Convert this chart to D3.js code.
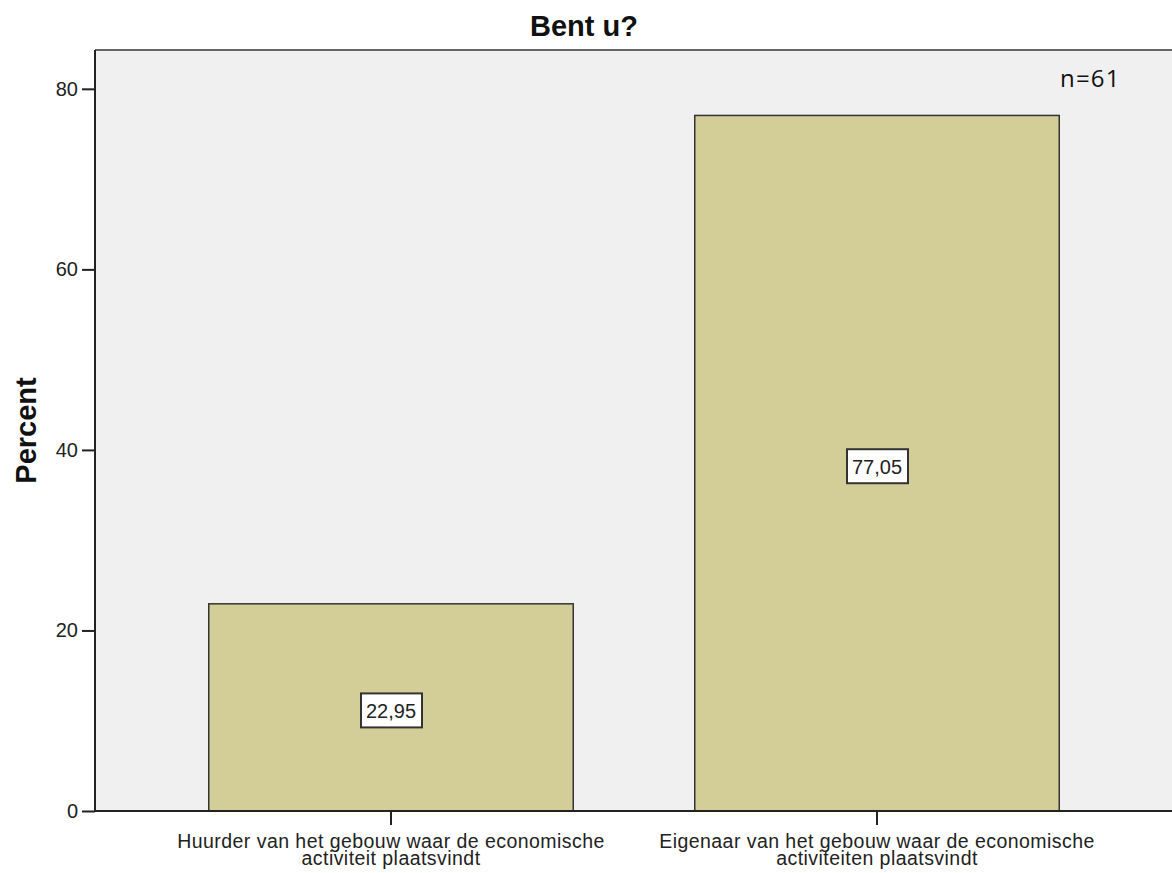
<!DOCTYPE html>
<html>
<head>
<meta charset="utf-8">
<script src="https://cdn.jsdelivr.net/npm/d3@7"></script>
<style>
  body { margin: 0; background: #fff; }
  svg { display: block; }
</style>
</head>
<body>
<svg id="chart" width="1172" height="873"></svg>
<script>
var categories = [
    ['Huurder van het gebouw waar de economische', 'activiteit plaatsvindt'],
    ['Eigenaar van het gebouw waar de economische', 'activiteiten plaatsvindt']
];
var percents = [22.95, 77.05];
var labels = ['22,95', '77,05'];
var yTicks = [0, 20, 40, 60, 80];

var svg = d3.select('#chart');
var font = 'Liberation Sans, Arial, sans-serif';

var plot = {left: 95, top: 50, right: 1190, bottom: 811};

var x = d3.scaleBand()
    .domain(d3.range(categories.length))
    .range([148, 1120])
    .paddingInner(0.25)
    .paddingOuter(0.125);

var y = d3.scaleLinear()
    .domain([0, 84.3])
    .range([plot.bottom, plot.top]);

// background
svg.append('rect')
    .attr('x', plot.left)
    .attr('y', plot.top)
    .attr('width', plot.right - plot.left)
    .attr('height', plot.bottom - plot.top)
    .attr('fill', '#f0f0f0');

svg.append('line')
    .attr('x1', plot.left).attr('x2', plot.right)
    .attr('y1', plot.top).attr('y2', plot.top)
    .attr('stroke', '#666').attr('stroke-width', 2);

// bars
svg.selectAll('rect.bar')
    .data(percents)
    .enter().append('rect')
    .attr('class', 'bar')
    .attr('x', function(d, i) { return x(i); })
    .attr('y', function(d) { return y(d); })
    .attr('width', x.bandwidth())
    .attr('height', function(d) { return y(0) - y(d); })
    .attr('fill', '#d3ce97')
    .attr('stroke', '#333')
    .attr('stroke-width', 1.5);

// y axis
var yAxis = svg.append('g')
    .attr('transform', 'translate(' + plot.left + ',0)')
    .call(d3.axisLeft(y).tickValues(yTicks).tickSize(13).tickPadding(4));
yAxis.select('.domain').remove();
yAxis.selectAll('.tick line').attr('stroke', '#222').attr('stroke-width', 2);
yAxis.selectAll('.tick text')
    .attr('font-family', font).attr('font-size', 20).attr('fill', '#222');

svg.append('line')
    .attr('x1', plot.left).attr('x2', plot.left)
    .attr('y1', plot.top).attr('y2', plot.bottom + 1)
    .attr('stroke', '#222').attr('stroke-width', 2);

svg.append('line')
    .attr('x1', plot.left - 1).attr('x2', plot.right)
    .attr('y1', plot.bottom).attr('y2', plot.bottom)
    .attr('stroke', '#222').attr('stroke-width', 2);

// x ticks and labels
var xt = svg.selectAll('g.xtick')
    .data(categories)
    .enter().append('g')
    .attr('class', 'xtick')
    .attr('transform', function(d, i) {
        return 'translate(' + (x(i) + x.bandwidth() / 2) + ',' + plot.bottom + ')';
    });

xt.append('line')
    .attr('y1', 0).attr('y2', 14)
    .attr('stroke', '#222').attr('stroke-width', 2);

xt.append('text')
    .attr('text-anchor', 'middle')
    .attr('font-family', font)
    .attr('font-size', 19.5)
    .attr('letter-spacing', 0.45)
    .attr('fill', '#222')
    .selectAll('tspan')
    .data(function(d) { return d; })
    .enter().append('tspan')
    .attr('x', 0)
    .attr('y', function(d, j) { return 37 + j * 17; })
    .text(function(d) { return d; });

// value boxes
var vb = svg.selectAll('g.val')
    .data(percents)
    .enter().append('g')
    .attr('class', 'val')
    .attr('transform', function(d, i) {
        return 'translate(' + (x(i) + x.bandwidth() / 2) + ',' + (y(d / 2) + 3) + ')';
    });

vb.append('rect')
    .attr('x', -30).attr('y', -17)
    .attr('width', 61).attr('height', 34)
    .attr('fill', '#fff')
    .attr('stroke', '#333')
    .attr('stroke-width', 2);

vb.append('text')
    .attr('text-anchor', 'middle')
    .attr('y', 7.5)
    .attr('font-family', font)
    .attr('font-size', 20)
    .attr('fill', '#222')
    .text(function(d, i) { return labels[i]; });

// title
svg.append('text')
    .attr('x', 584).attr('y', 36)
    .attr('text-anchor', 'middle')
    .attr('font-family', font)
    .attr('font-weight', 'bold')
    .attr('font-size', 29)
    .attr('fill', '#111')
    .text('Bent u?');

// y label, centred on the axis
svg.append('text')
    .attr('transform', 'translate(36,' + ((plot.top + plot.bottom) / 2) + ') rotate(-90)')
    .attr('text-anchor', 'middle')
    .attr('font-family', font)
    .attr('font-weight', 'bold')
    .attr('font-size', 29)
    .attr('fill', '#111')
    .text('Percent');

// n annotation
svg.append('text')
    .attr('x', 1060).attr('y', 87)
    .attr('font-family', 'Open Sans, sans-serif')
    .attr('font-size', 24)
    .attr('letter-spacing', 1.2)
    .attr('fill', '#111')
    .text('n=61');
</script>
</body>
</html>
